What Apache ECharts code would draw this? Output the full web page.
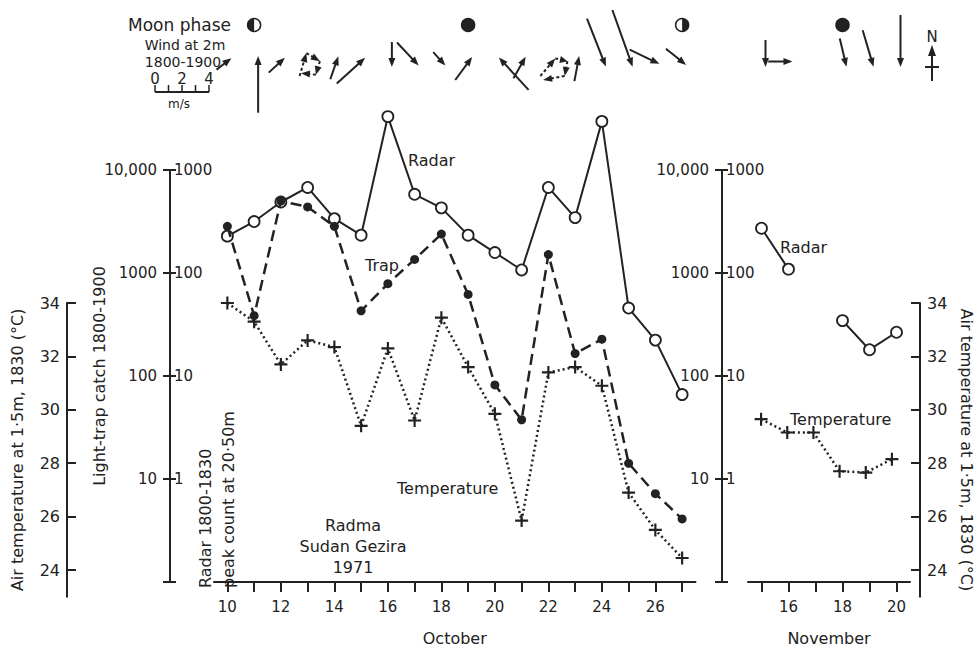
<!DOCTYPE html>
<html><head><meta charset="utf-8">
<script src="https://cdn.jsdelivr.net/npm/echarts@6/dist/echarts.min.js"></script>
<style>html,body{margin:0;padding:0;background:#fff}#c{width:975px;height:651px}</style>
</head><body><div id="c"></div>
<script>
// ---------- data ----------
const octDays = ['10','11','12','13','14','15','16','17','18','19','20','21','22','23','24','25','26','27'];
const novDays = ['15','16','17','18','19','20'];
const radarOct = [228,316,489,677,337,233,3300,581,429,233,158,107,677,345,2965,45.7,22.3,6.6];
const trapOct  = [2840,385,4990,4380,2840,429,787,1355,2385,620,82,37.6,1510,165,228,14.2,7.2,4.1];
const tempOct  = [34.0,33.3,31.7,32.6,32.35,29.4,32.3,29.6,33.45,31.6,29.85,25.85,31.4,31.6,30.9,26.9,25.5,24.45];
const radarNov = [272,109,null,34.5,18,26.6];
const tempNov  = [29.65,29.15,29.15,27.7,27.65,28.15];
// wind at 2 m, 1800-1900: eastward (u) and northward (v) components, m/s
const windUOct = [1.1,0,1.2,null,0.6,2.1,0,1.6,0.9,1.25,-2.2,0.9,null,0.35,1.4,1.5,2.2,1.5];
const windVOct = [0.85,4.2,1.1,null,1.7,1.9,-1.85,-1.7,-1.0,1.7,2.4,1.6,null,1.85,-3.55,-4.2,-1.05,-1.2];
const windUNov = [0,1.8,null,0.5,0.8,0];
const windVNov = [-2.0,0,null,-2.1,-2.7,-3.85];
// variable winds (sequence of vectors, m/s)
const variableWindOct = {3:[[0.5,1.7],[1.0,-0.6],[-0.3,-1.0],[-1.1,0.1]], 12:[[1.1,1.3],[0.9,-0.2],[-0.2,-1.1],[-1.6,-0.3]]};
// moon phase: 0 new, 1 first quarter, 3 last quarter
const moonOct = [[1,3],[9,0],[17,1]];
const moonNov = [[3,0]];
const tempTicks = [24,26,28,30,32,34];
const windScaleTicks = [0,2,4];

// ---------- drawing ----------
const INK = '#222';
const FONT = 'DejaVu Sans';
const K = 13.5; // px per m/s
const LS = {color: INK, width: 2};

function arrowEls(x1,y1,x2,y2,dashed){
  const dx=x2-x1, dy=y2-y1, L=Math.hypot(dx,dy)||1, ux=dx/L, uy=dy/L;
  const hl=Math.min(9, L*0.6), hw=3.5;
  const bx=x2-ux*hl, by=y2-uy*hl;
  return [
    {type:'line', shape:{x1:x1,y1:y1,x2:x2-ux*hl*0.6,y2:y2-uy*hl*0.6}, style:{stroke:INK, lineWidth:2, lineDash: dashed?[3,2.5]:null}},
    {type:'polygon', shape:{points:[[x2,y2],[bx-uy*hw,by+ux*hw],[bx+uy*hw,by-ux*hw]]}, style:{fill:INK}}
  ];
}
function windRender(U,V,LOOPS){
  return function(params, api){
    const i = api.value(0);
    const x = api.coord([i,1])[0] + 4;
    const children = [];
    if (LOOPS && LOOPS[i]) {
      let px = x-12, py = 76;
      LOOPS[i].forEach(function(w){ const nx=px+w[0]*K, ny=py-w[1]*K; children.push.apply(children, arrowEls(px,py,nx,ny,true)); px=nx; py=ny; });
    } else if (U[i] != null) {
      const u=U[i], v=V[i], s=Math.hypot(u,v);
      const hy = 61.5 - 5.5*v/s;
      children.push.apply(children, arrowEls(x-u*K, hy+v*K, x, hy, false));
    }
    return {type:'group', children: children};
  };
}
function moonRender(params, api){
  const i=api.value(0), ph=api.value(1);
  const cx=api.coord([i,1])[0], cy=25, r=6.5;
  const ch=[{type:'circle', shape:{cx:cx,cy:cy,r:r}, style:{fill: ph===0?INK:'#fff', stroke:INK, lineWidth:1.5}}];
  if (ph===3) ch.push({type:'sector', shape:{cx:cx,cy:cy,r0:0,r:r,startAngle:Math.PI/2,endAngle:Math.PI*1.5,clockwise:true}, style:{fill:INK}});
  if (ph===1) ch.push({type:'sector', shape:{cx:cx,cy:cy,r0:0,r:r,startAngle:-Math.PI/2,endAngle:Math.PI/2,clockwise:true}, style:{fill:INK}});
  return {type:'group', children: ch};
}

const plusSym = 'path://M5,0L7,0L7,5L12,5L12,7L7,7L7,12L5,12L5,7L0,7L0,5L5,5Z';
const trapFmt = function(v){ if (v < 5) return ''; const n=Math.round(v); return n>=10000 ? n.toLocaleString('en-US') : String(n); };
const radarFmt = function(v){ if (v < 0.5) return ''; return String(Math.round(v)); };
const lbl = {color: INK, fontFamily: FONT, fontSize: 15};

function trapAxis(g, off, withName){
  return {type:'log', gridIndex:g, position:'left', offset:off, min:1, max:10000,
    axisLine:{show:true, lineStyle:LS}, axisTick:{show:true, inside:false, length:7, lineStyle:LS},
    axisLabel:Object.assign({formatter:trapFmt, margin:13}, lbl), splitLine:{show:false},
    name: withName ? 'Light-trap catch 1800-1900' : '', nameLocation:'middle', nameGap:63, nameRotate:90, nameMoveOverlap:false,
    nameTextStyle:{color:INK, fontFamily:FONT, fontSize:16}};
}
function radarAxis(g, off){
  return {type:'log', gridIndex:g, position:'left', offset:off, min:0.1, max:1000,
    axisLine:{show:true, lineStyle:LS}, axisTick:{show:true, inside:true, length:6, lineStyle:LS},
    axisLabel:Object.assign({formatter:radarFmt, inside:true, margin:4}, lbl), splitLine:{show:false}};
}
function tempAxis(g, pos, off, rot, gap){
  return {type:'value', gridIndex:g, position:pos, offset:off, min:23, max:34,
    axisLine:{show:true, lineStyle:LS}, axisTick:{show:true, inside:true, length:9, lineStyle:LS, customValues:tempTicks},
    axisLabel:Object.assign({customValues:tempTicks, margin:7}, lbl, {fontSize:16}), splitLine:{show:false},
    name:'Air temperature at 1·5m, 1830 (°C)', nameLocation:'middle', nameRotate:rot, nameGap:gap, nameMoveOverlap:false,
    nameTextStyle:{color:INK, fontFamily:FONT, fontSize:16}};
}
function catAxis(g, data, name, show){
  return {type:'category', gridIndex:g, data:data, boundaryGap:true, show:show,
    axisLine:{show:true, lineStyle:LS}, axisTick:{show:true, interval:0, alignWithLabel:true, length:10, lineStyle:LS},
    axisLabel:Object.assign({interval:function(i,v){return (+v)%2===0;}, margin:17}, lbl),
    name:name, nameLocation:'middle', nameGap:48, nameMoveOverlap:false, nameTextStyle:{color:INK, fontFamily:FONT, fontSize:16}};
}
function txt(x,y,t,opts){
  opts = opts || {};
  return {type:'text', x:x, y:y, rotation:opts.rot||0, silent:true,
    style:{text:t, fill:INK, font:(opts.size||16)+'px "'+FONT+'"', textAlign:opts.align||'left', textVerticalAlign:'middle', align:opts.align||'left', verticalAlign:'middle'}};
}

const graphics = [
  txt(231,25,'Moon phase',{align:'right',size:17}),
  txt(185,45,'Wind at 2m',{align:'center',size:14}),
  txt(183,62,'1800-1900',{align:'center',size:14}),
  txt(408,160,'Radar'), txt(365,265,'Trap'), txt(397,488,'Temperature'),
  txt(353,525,'Radma',{align:'center'}), txt(353,546,'Sudan Gezira',{align:'center'}), txt(353,567,'1971',{align:'center'}),
  txt(205,588,'Radar 1800-1830',{rot:Math.PI/2}), txt(228,588,'peak count at 20·50m',{rot:Math.PI/2}),
  txt(780,247,'Radar'), txt(790,419,'Temperature'),
  txt(932,37,'N',{align:'center',size:15}),
  {type:'line', silent:true, shape:{x1:932,y1:81,x2:932,y2:50}, style:{stroke:INK,lineWidth:2}},
  {type:'polygon', silent:true, shape:{points:[[932,45],[928,56],[936,56]]}, style:{fill:INK}},
  {type:'line', silent:true, shape:{x1:925,y1:67,x2:939,y2:67}, style:{stroke:INK,lineWidth:2}},
  // wind scale bar
  {type:'line', silent:true, shape:{x1:155,y1:92,x2:155+4*K,y2:92}, style:{stroke:INK,lineWidth:2}}
];
for (let k=0;k<=4;k++) graphics.push({type:'line', silent:true, shape:{x1:155+k*K,y1:92,x2:155+k*K,y2:85}, style:{stroke:INK,lineWidth:1.5}});
windScaleTicks.forEach(function(t){ graphics.push(txt(155+t*K,79,String(t),{align:'center',size:15})); });
graphics.push(txt(179,104,'m/s',{align:'center',size:12}));

const option = {
  animation:false,
  backgroundColor:'#fff',
  grid:[
    {left:214, top:170, width:481.5, height:424},
    {left:748, top:170, width:162, height:424},
    {left:214, top:303, width:481.5, height:293.7},
    {left:748, top:303, width:162, height:293.7}
  ],
  xAxis:[ catAxis(0, octDays, 'October', true), catAxis(1, novDays, 'November', true),
          catAxis(2, octDays, '', false), catAxis(3, novDays, '', false) ],
  yAxis:[ trapAxis(0,44,true), radarAxis(0,44), trapAxis(1,26,false), radarAxis(1,26),
          tempAxis(2,'left',147,90,42), tempAxis(3,'right',15,-90,38) ],
  graphic: graphics,
  series:[
    {type:'line', name:'Radar', xAxisIndex:0, yAxisIndex:1, data:radarOct, symbol:'circle', symbolSize:11, clip:false,
     lineStyle:{color:INK,width:2}, itemStyle:{color:'#fff', borderColor:INK, borderWidth:1.8}, z:3},
    {type:'line', name:'Trap', xAxisIndex:0, yAxisIndex:0, data:trapOct, symbol:'circle', symbolSize:9, clip:false,
     lineStyle:{color:INK,width:2.5,type:[11,6]}, itemStyle:{color:INK}, z:4},
    {type:'line', name:'Temperature', xAxisIndex:2, yAxisIndex:4, data:tempOct, symbol:plusSym, symbolSize:13, clip:false,
     lineStyle:{color:INK,width:2.5,type:[2,3]}, itemStyle:{color:INK}, z:4},
    {type:'line', name:'Radar Nov', xAxisIndex:1, yAxisIndex:3, data:radarNov, symbol:'circle', symbolSize:11, connectNulls:false, clip:false,
     lineStyle:{color:INK,width:2}, itemStyle:{color:'#fff', borderColor:INK, borderWidth:1.8}, z:3},
    {type:'line', name:'Temperature Nov', xAxisIndex:3, yAxisIndex:5, data:tempNov, symbol:plusSym, symbolSize:13, clip:false,
     lineStyle:{color:INK,width:2.5,type:[2,3]}, itemStyle:{color:INK}, z:4},
    {type:'custom', name:'Wind Oct', xAxisIndex:0, yAxisIndex:1, clip:false, silent:true, z:5,
     data: octDays.map(function(d,i){return [i];}), renderItem: windRender(windUOct, windVOct, variableWindOct)},
    {type:'custom', name:'Wind Nov', xAxisIndex:1, yAxisIndex:3, clip:false, silent:true, z:5,
     data: novDays.map(function(d,i){return [i];}), renderItem: windRender(windUNov, windVNov, null)},
    {type:'custom', name:'Moon Oct', xAxisIndex:0, yAxisIndex:1, clip:false, silent:true, z:5,
     data: moonOct, renderItem: moonRender},
    {type:'custom', name:'Moon Nov', xAxisIndex:1, yAxisIndex:3, clip:false, silent:true, z:5,
     data: moonNov, renderItem: moonRender}
  ]
};
const chart = echarts.init(document.getElementById('c'), null, {renderer:'svg'});
chart.setOption(option);
</script></body></html>
